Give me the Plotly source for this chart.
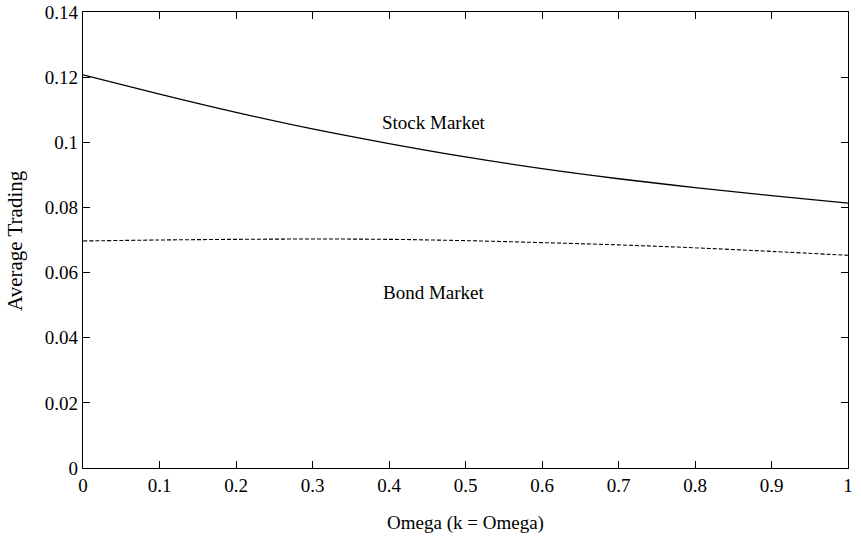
import plotly.graph_objects as go

omega = [0.0, 0.1, 0.2, 0.3, 0.4, 0.5, 0.6, 0.7, 0.8, 0.9, 1.0]
stock = [0.1207, 0.1148, 0.1092, 0.1041, 0.0996, 0.0955, 0.0919, 0.0888, 0.0861, 0.0836, 0.0813]
bond = [0.0697, 0.0700, 0.0702, 0.0703, 0.0702, 0.0698, 0.0692, 0.0685, 0.0676, 0.0665, 0.0653]

x_tickvals = [0, 0.1, 0.2, 0.3, 0.4, 0.5, 0.6, 0.7, 0.8, 0.9, 1]
x_ticktext = ["0", "0.1", "0.2", "0.3", "0.4", "0.5", "0.6", "0.7", "0.8", "0.9", "1"]
y_tickvals = [0, 0.02, 0.04, 0.06, 0.08, 0.1, 0.12, 0.14]
y_ticktext = ["0", "0.02", "0.04", "0.06", "0.08", "0.1", "0.12", "0.14"]

labels = ["Stock Market", "Bond Market"]
label_x = [0.459, 0.459]
label_y = [0.1062, 0.054]

FONT = "Liberation Serif, Times New Roman, serif"

fig = go.Figure()
fig.add_trace(go.Scatter(x=omega, y=stock, mode="lines", line=dict(color="black", width=1.3, shape="spline"), showlegend=False))
fig.add_trace(go.Scatter(x=omega, y=bond, mode="lines", line=dict(color="black", width=1.1, dash="4px,2px", shape="spline"), showlegend=False))

for t, xx, yy in zip(labels, label_x, label_y):
    fig.add_annotation(x=xx, y=yy, text=t, showarrow=False, font=dict(family=FONT, size=19, color="black"))

# y-axis title as a rotated annotation to place it at the far left
fig.add_annotation(xref="paper", yref="paper", x=-0.089, y=0.5, xanchor="center", yanchor="middle",
                   text="Average Trading", textangle=-90, showarrow=False,
                   font=dict(family=FONT, size=21, color="black"))

fig.update_layout(
    width=861, height=542,
    margin=dict(l=83, r=13, t=12, b=74),
    paper_bgcolor="white", plot_bgcolor="white",
    font=dict(family=FONT, size=19, color="black"),
)
fig.update_xaxes(
    range=[0, 1], tickvals=x_tickvals, ticktext=x_ticktext, automargin=False,
    ticks="inside", ticklen=7, tickcolor="black", tickwidth=1,
    showline=True, linecolor="black", linewidth=1.3, mirror="ticks",
    showgrid=False, zeroline=False,
    title=dict(text="Omega (k = Omega)", standoff=20, font=dict(family=FONT, size=19)),
)
fig.update_yaxes(
    range=[0, 0.14], tickvals=y_tickvals, ticktext=y_ticktext, automargin=False,
    ticks="inside", ticklen=7, tickcolor="black", tickwidth=1,
    showline=True, linecolor="black", linewidth=1.3, mirror="ticks",
    showgrid=False, zeroline=False,
)

fig.write_html("out.html")
